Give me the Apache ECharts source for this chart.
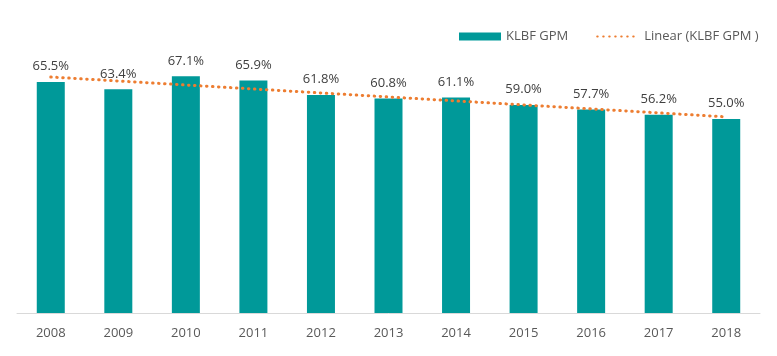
<!DOCTYPE html>
<html>
<head>
<meta charset="utf-8">
<script src="https://cdn.jsdelivr.net/npm/echarts@6/dist/echarts.min.js"></script>
<style>html,body{margin:0;padding:0;background:#fff}#c{width:777px;height:356px}</style>
</head>
<body>
<div id="c"></div>
<script>
var years = ['2008','2009','2010','2011','2012','2013','2014','2015','2016','2017','2018'];
var gpm = [65.5, 63.4, 67.1, 65.9, 61.8, 60.8, 61.1, 59.0, 57.7, 56.2, 55.0];
var trendYears = ['2008', '2018'];
var trendValues = [66.9, 55.6];

var chart = echarts.init(document.getElementById('c'));
var font = '"Open Sans", "Noto Sans", sans-serif';
chart.setOption({
  animation: false,
  textStyle: { fontFamily: font },
  grid: { left: 17, right: 17, top: 30.8, bottom: 43, containLabel: false },
  legend: {
    left: 454, top: 25,
    itemWidth: 42, itemHeight: 8, itemGap: 28,
    textStyle: { fontFamily: font, fontSize: 13, color: '#595959' },
    data: [
      { name: 'KLBF GPM', icon: 'rect' },
      { name: 'Linear (KLBF GPM )', itemStyle: { opacity: 0 } }
    ]
  },
  xAxis: {
    type: 'category',
    data: years,
    axisLine: { lineStyle: { color: '#d9d9d9', width: 1 } },
    axisTick: { show: false },
    axisLabel: { color: '#595959', fontSize: 13, fontFamily: font, margin: 14 }
  },
  yAxis: {
    type: 'value', min: 0, max: 80,
    show: false,
    splitLine: { show: false }
  },
  series: [
    {
      name: 'KLBF GPM',
      type: 'bar',
      data: gpm,
      barWidth: 28,
      itemStyle: { color: '#009999' },
      label: {
        show: true, position: 'top', distance: 9,
        color: '#404040', fontSize: 13, fontFamily: font,
        formatter: function (p) { return p.value.toFixed(1) + '%'; }
      }
    },
    {
      name: 'Linear (KLBF GPM )',
      type: 'line',
      data: trendYears.map(function (y, i) { return [y, trendValues[i]]; }),
      symbol: 'none',
      z: 5,
      lineStyle: { color: '#ED7D31', width: 3, type: [0.5, 5.5], cap: 'round' },
      itemStyle: { color: '#ED7D31' }
    }
  ]
});
</script>
</body>
</html>
